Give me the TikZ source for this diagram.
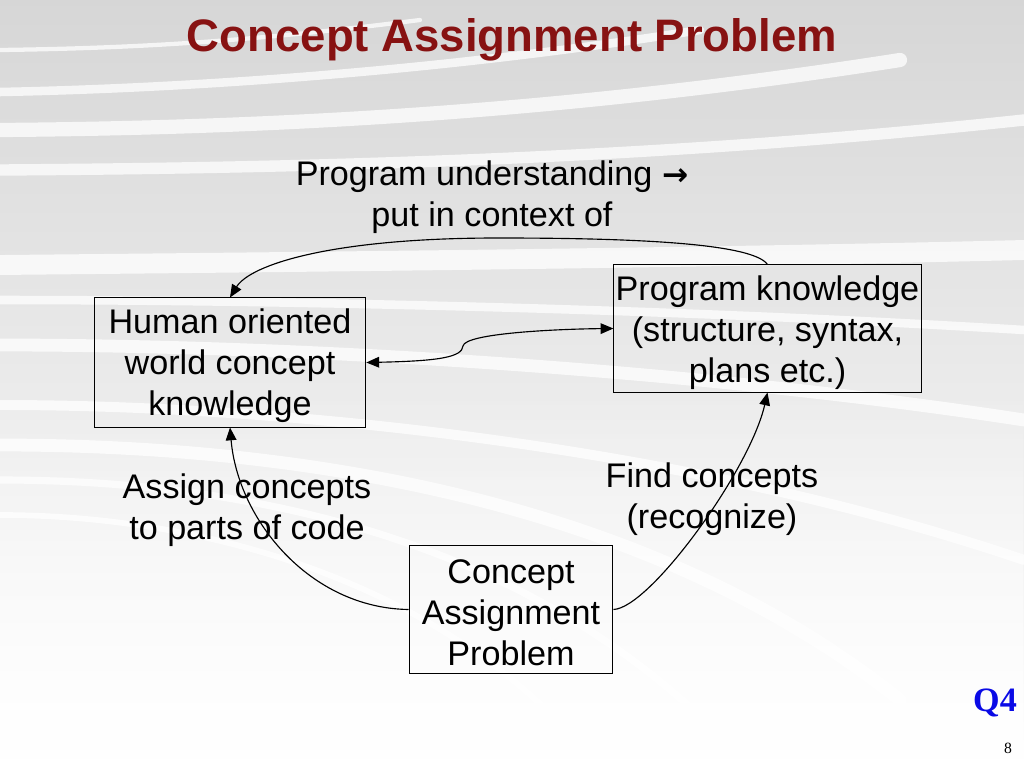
\documentclass[tikz,border=0pt]{standalone}
\usepackage{fontspec}
\setmainfont{Liberation Sans}
\newfontfamily\timesfont{Liberation Serif}
\newfontfamily\arrowfont{DejaVu Sans}
\usetikzlibrary{arrows.meta,shadings,fadings}
\definecolor{titlered}{RGB}{135,18,18}
\definecolor{qblue}{RGB}{10,10,230}
\tikzset{
  px/.style={x=0.703pt,y=-0.703pt},
  lbl/.style={align=center,inner sep=0pt,font=\fontsize{24}{28.8}\selectfont},
  frame/.style={draw=black,line width=0.7pt,inner sep=0pt},
  conn/.style={draw=black,line width=0.8pt},
  tip/.style={-{Triangle[length=9pt,width=7.5pt]}},
  band/.style={white,line cap=round,opacity=0.75}
}
\begin{document}
\begin{tikzpicture}[px]
\useasboundingbox (0,0) rectangle (1024,768);
% background
\shade[left color=black!16,right color=white,shading angle=0] (0,0) rectangle (1024,768);
\fill[white,path fading=north,opacity=0.8] (0,380) rectangle (1024,768);
\draw[band,line width=3pt] (0,50) .. controls (150,48) and (260,40) .. (420,20);
\draw[band,line width=6pt] (0,92) .. controls (200,88) and (450,70) .. (700,30);
\draw[band,line width=10pt] (0,130) .. controls (250,128) and (550,115) .. (900,60);
\draw[band,line width=8pt] (0,170) .. controls (300,168) and (650,160) .. (1024,120);
\draw[band,line width=14pt] (0,265) .. controls (300,262) and (700,258) .. (1024,250);
\draw[band,line width=6pt] (0,300) .. controls (300,300) and (700,310) .. (1024,330);
\draw[band,line width=9pt] (0,345) .. controls (300,345) and (700,370) .. (1024,420);
\draw[band,line width=7pt] (0,405) .. controls (300,405) and (700,450) .. (1024,560);
\draw[band,line width=9pt] (0,445) .. controls (300,445) and (650,500) .. (900,700);
\draw[band,line width=5pt] (0,480) .. controls (250,480) and (550,540) .. (750,768);
\draw[band,line width=4pt] (0,515) .. controls (200,515) and (450,580) .. (600,768);
% title
\node[font=\fontsize{32}{38}\selectfont\bfseries,text=titlered,inner sep=0pt] (title) at (512,40) {Concept Assignment Problem};
% nodes
\node[frame,minimum width=191pt,minimum height=90.7pt] (hum) at (230,362.5) {};
\node[lbl] (humt) at (230,366) {Human oriented\\world concept\\knowledge};
\node[frame,minimum width=216pt,minimum height=89.3pt] (pk) at (767.5,328.5) {};
\node[lbl] (pkt) at (767.5,333) {Program knowledge\\(structure, syntax,\\plans etc.)};
\node[frame,minimum width=143.4pt,minimum height=89.3pt] (cap) at (511,609.5) {};
\node[lbl] (capt) at (511,613) {Concept\\Assignment\\Problem};
% labels
\node[lbl] (l1) at (492,197) {Program understanding {\arrowfont\bfseries\fontsize{22}{24}\selectfont →}\\put in context of};
\node[lbl] (l2) at (247,510) {Assign concepts\\to parts of code};
\node[lbl] (l3) at (712,499) {Find concepts\\(recognize)};
% connectors
\draw[conn,tip] (pk.north) .. controls (752,242) and (620,238) .. (498,238) .. controls (330,238) and (250,265) .. (hum.north);
\draw[conn,{Triangle[length=9pt,width=7.5pt]}-{Triangle[length=9pt,width=7.5pt]}] (hum.east) .. controls (440,361) and (462,357) .. (463,346) .. controls (465,333) and (560,329) .. (pk.west);
\draw[conn,tip] (cap.west) .. controls (310,608) and (238,520) .. (hum.south);
\draw[conn,tip] (cap.east) .. controls (650,608) and (750,470) .. (pk.south);
% corner marks
\node[font=\timesfont\bfseries\fontsize{24}{28}\selectfont,text=qblue,inner sep=0pt] (q4) at (995,703) {Q4};
\node[font=\timesfont\fontsize{11}{13}\selectfont,inner sep=0pt] (pg) at (1008,748) {8};
\end{tikzpicture}
\end{document}
